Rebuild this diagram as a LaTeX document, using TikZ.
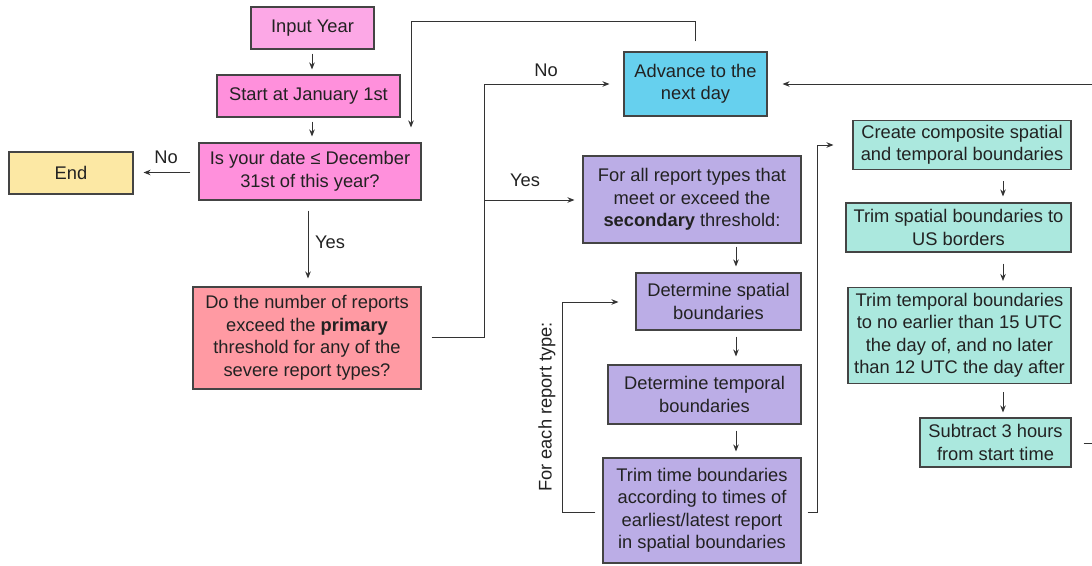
\documentclass[tikz,border=0pt]{standalone}
\usepackage{fontspec}
\setmainfont{Liberation Sans}
\usetikzlibrary{arrows.meta,calc}
\definecolor{txt}{HTML}{222222}
\definecolor{edge}{HTML}{444444}
\definecolor{lnc}{HTML}{333333}
\definecolor{pinkA}{HTML}{FCA8E6}
\definecolor{pinkB}{HTML}{FF90DC}
\definecolor{yel}{HTML}{FCE8A4}
\definecolor{salmon}{HTML}{FF9AA3}
\definecolor{cyanB}{HTML}{66D0EE}
\definecolor{lav}{HTML}{BBADE6}
\definecolor{teal}{HTML}{ABE8DE}
\tikzset{
  box/.style={draw=edge, line width=1.1pt, rectangle, inner sep=0pt, align=center,
    text=txt, font=\fontsize{18.3}{22.5}\selectfont},
  arr/.style={draw=lnc, line width=1pt, -{Stealth[length=7pt,width=5.5pt]}},
  ln/.style={draw=lnc, line width=1pt},
  lbl/.style={text=txt, font=\fontsize{18.3}{22.5}\selectfont, inner sep=0pt}
}
\begin{document}
\begin{tikzpicture}[x=1pt,y=-1pt]
\useasboundingbox (0,0) rectangle (1092,565);
\clip (0,0) rectangle (1092,565);
\fill[white] (0,0) rectangle (1092,565);
% nodes
\node[box, fill=pinkA, minimum width=123pt, minimum height=42pt] (inp) at (312.5,28) {Input Year};
\node[box, fill=pinkB, minimum width=183pt, minimum height=42pt] (start) at (308.5,96) {Start at January 1st};
\node[box, fill=pinkB, minimum width=222pt, minimum height=57pt] (isdate) at (310,171.5) {Is your date ≤ December\\31st of this year?};
\node[box, fill=yel, minimum width=124pt, minimum height=42pt] (endn) at (71,173) {End};
\node[box, fill=salmon, minimum width=228pt, minimum height=102pt] (prim) at (307,338) {Do the number of reports\\exceed the \textbf{primary}\\threshold for any of the\\severe report types?};
\node[box, fill=cyanB, minimum width=143pt, minimum height=64pt] (adv) at (695.5,84) {Advance to the\\next day};
\node[box, fill=lav, minimum width=218pt, minimum height=87pt] (sec) at (692,199.5) {For all report types that\\meet or exceed the\\\textbf{secondary} threshold:};
\node[box, fill=lav, minimum width=165pt, minimum height=57pt] (dspat) at (718.5,301.5) {Determine spatial\\boundaries};
\node[box, fill=lav, minimum width=193pt, minimum height=59pt] (dtemp) at (704.5,394.5) {Determine temporal\\boundaries};
\node[box, fill=lav, minimum width=198pt, minimum height=105pt] (trim) at (702,510.5) {Trim time boundaries\\according to times of\\earliest/latest report\\in spatial boundaries};
\node[box, fill=teal, minimum width=218pt, minimum height=49pt] (comp) at (962,145) {Create composite spatial\\and temporal boundaries};
\node[box, fill=teal, minimum width=225pt, minimum height=49pt] (tspat) at (958.5,227.5) {Trim spatial boundaries to\\US borders};
\node[box, fill=teal, minimum width=223pt, minimum height=96pt] (ttemp) at (959.5,335.5) {Trim temporal boundaries\\to no earlier than 15 UTC\\the day of, and no later\\than 12 UTC the day after};
\node[box, fill=teal, minimum width=151pt, minimum height=49pt] (sub) at (995.5,442.5) {Subtract 3 hours\\from start time};
% helper coordinates
\coordinate (jA) at (484.5,337);
\coordinate (jB) at (484.5,84);
\coordinate (jC) at (484.5,200);
\coordinate (lpA) at (695.5,21);
\coordinate (lpB) at (411,21);
\coordinate (rtA) at (1100,443);
\coordinate (rtB) at (1100,84);
\coordinate (flA) at (562,512);
\coordinate (flB) at (562,302);
\coordinate (frA) at (817,512);
\coordinate (frB) at (817,145);
% connectors
\draw[arr] ([yshift=-4pt]inp.south -| 312,0) -- ([yshift=5pt]start.north -| 312,0);
\draw[arr] ([yshift=-4pt]start.south -| 312,0) -- ([yshift=6pt]isdate.north -| 312,0);
\draw[arr] ([xshift=-8pt]isdate.west |- 0,172.5) -- ([xshift=10pt]endn.east |- 0,172.5);
\node[lbl] (no1) at (166,157) {No};
\draw[arr] ([yshift=-10pt]isdate.south -| 308,0) -- ([yshift=8pt]prim.north -| 308,0);
\node[lbl] (yes1) at (330,242) {Yes};
\draw[ln] ([xshift=10pt]prim.east |- jA) -- (jA) -- (jB);
\draw[arr] (jB) -- ([xshift=-14pt]adv.west);
\node[lbl] (no2) at (546,70) {No};
\draw[arr] (jC) -- ([xshift=-8pt]sec.west |- jC);
\node[lbl] (yes2) at (525,180) {Yes};
\draw[arr] ([yshift=10pt]adv.north) -- (lpA) -- (lpB) -- ([yshift=15pt]isdate.north -| lpB);
\draw[arr] ([xshift=12pt]sub.east |- rtA) -- (rtA) -- (rtB) -- ([xshift=15pt]adv.east);
\draw[arr] ([yshift=-3pt]sec.south -| 736,0) -- ([yshift=6pt]dspat.north -| 736,0);
\draw[arr] ([yshift=-6pt]dspat.south -| 736,0) -- ([yshift=8pt]dtemp.north -| 736,0);
\draw[arr] ([yshift=-6pt]dtemp.south -| 736,0) -- ([yshift=6pt]trim.north -| 736,0);
\draw[arr] ([xshift=-7pt]trim.west |- flA) -- (flA) -- (flB) -- ([xshift=-17pt]dspat.west |- flB);
\node[lbl, rotate=90] (each) at (547,407) {For each report type:};
\draw[arr] ([xshift=6pt]trim.east |- frA) -- (frA) -- (frB) -- ([xshift=-19pt]comp.west |- frB);
\draw[arr] ([yshift=-11pt]comp.south -| 1003,0) -- ([yshift=6pt]tspat.north -| 1003,0);
\draw[arr] ([yshift=-11pt]tspat.south -| 1003,0) -- ([yshift=6pt]ttemp.north -| 1003,0);
\draw[arr] ([yshift=-8pt]ttemp.south -| 1003,0) -- ([yshift=5pt]sub.north -| 1003,0);
\end{tikzpicture}
\end{document}
